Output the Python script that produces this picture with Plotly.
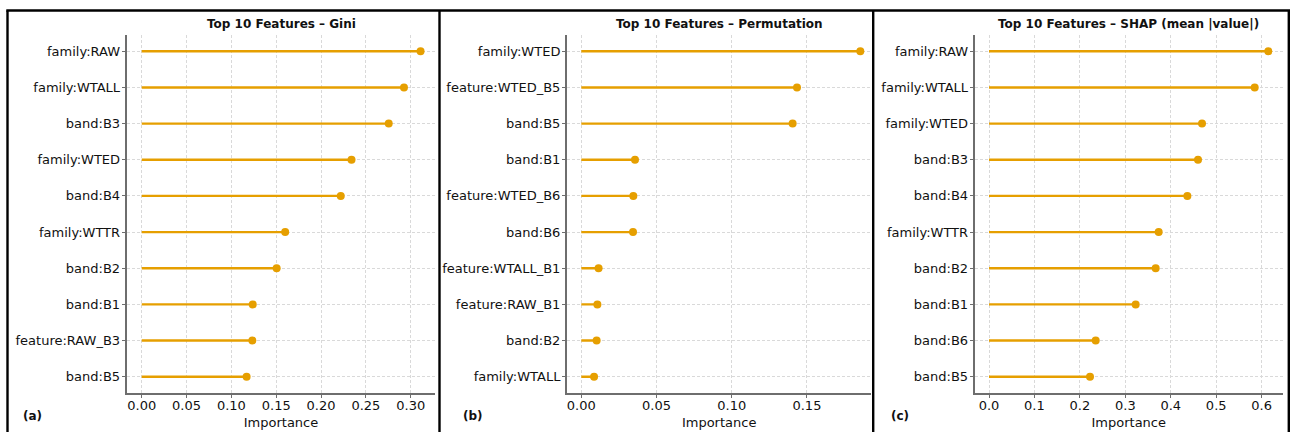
import plotly.graph_objects as go

# ---------------- data ----------------
gini_labels = ["family:RAW", "family:WTALL", "band:B3", "family:WTED", "band:B4",
               "family:WTTR", "band:B2", "band:B1", "feature:RAW_B3", "band:B5"]
gini_values = [0.311, 0.2925, 0.2755, 0.234, 0.222, 0.160, 0.1505, 0.1238, 0.1234, 0.117]

perm_labels = ["family:WTED", "feature:WTED_B5", "band:B5", "band:B1", "feature:WTED_B6",
               "band:B6", "feature:WTALL_B1", "feature:RAW_B1", "band:B2", "family:WTALL"]
perm_values = [0.1855, 0.1434, 0.1405, 0.0357, 0.0346, 0.0344, 0.0115, 0.0107, 0.0102, 0.0085]

shap_labels = ["family:RAW", "family:WTALL", "family:WTED", "band:B3", "band:B4",
               "family:WTTR", "band:B2", "band:B1", "band:B6", "band:B5"]
shap_values = [0.6147, 0.5847, 0.4688, 0.460, 0.4365, 0.3734, 0.3668, 0.3228, 0.2348, 0.2223]

titles = ["Top 10 Features – Gini", "Top 10 Features – Permutation",
          "Top 10 Features – SHAP (mean |value|)"]
panel_tags = ["(a)", "(b)", "(c)"]
x_ticks = [[0.00, 0.05, 0.10, 0.15, 0.20, 0.25, 0.30],
           [0.00, 0.05, 0.10, 0.15],
           [0.0, 0.1, 0.2, 0.3, 0.4, 0.5, 0.6]]
x_fmt = [".2f", ".2f", ".1f"]

# ---------------- layout geometry (pixels) ----------------
W, H = 1290, 432
plot_x = [(127, 435), (567.3, 871), (975, 1282.5)]
plot_top, plot_bot = 35, 393
x_ranges = [(-0.0164, 0.3271), (-0.0093, 0.1926), (-0.0308, 0.6459)]
tag_x = [32.5, 472.5, 899.5]

ORANGE = "#E69F00"
SPINE = "#6e6e6e"
GRID = "#d9d9d9"
FONT = "DejaVu Sans"

def px(x):
    return x / W

def py(y):
    return (H - y) / H

fig = go.Figure()
data = [(gini_labels, gini_values), (perm_labels, perm_values), (shap_labels, shap_values)]

annotations = []
for i, (labels, values) in enumerate(data):
    xa = "x" if i == 0 else f"x{i+1}"
    ya = "y" if i == 0 else f"y{i+1}"
    lx, ly = [], []
    for lab, v in zip(labels, values):
        lx += [0, v, None]
        ly += [lab, lab, None]
    fig.add_trace(go.Scatter(x=lx, y=ly, mode="lines", line=dict(color=ORANGE, width=2.4),
                             xaxis=xa, yaxis=ya, showlegend=False, hoverinfo="skip"))
    fig.add_trace(go.Scatter(x=values, y=labels, mode="markers",
                             marker=dict(color=ORANGE, size=8, line=dict(width=0)),
                             xaxis=xa, yaxis=ya, showlegend=False))
    x0, x1 = plot_x[i]
    xkey = "xaxis" if i == 0 else f"xaxis{i+1}"
    ykey = "yaxis" if i == 0 else f"yaxis{i+1}"
    fig.layout[xkey] = dict(
        domain=[px(x0), px(x1)], anchor=ya, range=list(x_ranges[i]),
        tickvals=x_ticks[i], tickformat=x_fmt[i],
        showgrid=True, gridcolor=GRID, griddash="3px,2px", gridwidth=0.8,
        zeroline=False, showline=True, linecolor=SPINE, linewidth=1.6,
        ticks="outside", ticklen=3.5, tickcolor=SPINE, tickwidth=1,
        ticklabelstandoff=-4,
        tickfont=dict(family=FONT, size=13, color="#111"),
        title=dict(text="Importance", font=dict(family=FONT, size=13, color="#111"), standoff=6),
        fixedrange=True,
    )
    fig.layout[ykey] = dict(
        domain=[py(plot_bot), py(plot_top)], anchor=xa,
        type="category", categoryorder="array", categoryarray=labels,
        range=[len(labels) - 0.55, -0.45],
        showgrid=True, gridcolor=GRID, griddash="3px,2px", gridwidth=0.8,
        zeroline=False, showline=True, linecolor=SPINE, linewidth=1.6,
        ticks="outside", ticklen=3.5, tickcolor=SPINE, tickwidth=1,
        ticklabelstandoff=-1,
        tickfont=dict(family=FONT, size=13, color="#111"),
        fixedrange=True,
    )
    annotations.append(dict(text=f"<b>{titles[i]}</b>", xref="paper", yref="paper",
                            x=px((x0 + x1) / 2), y=py(24.3), xanchor="center", yanchor="middle",
                            showarrow=False, font=dict(family=FONT, size=12, color="#111")))
    annotations.append(dict(text=f"<b>{panel_tags[i]}</b>", xref="paper", yref="paper",
                            x=px(tag_x[i]), y=py(416), xanchor="center", yanchor="middle",
                            showarrow=False, font=dict(family=FONT, size=12, color="#111")))

# panel frames
shapes = []
frame_top = 10.5
frame_xs = [7.5, 439.5, 873.2, 1288.8]
shapes.append(dict(type="line", xref="paper", yref="paper", x0=px(6.3), x1=px(1290),
                   y0=py(frame_top), y1=py(frame_top), line=dict(color="black", width=2.6)))
for fx in frame_xs:
    shapes.append(dict(type="line", xref="paper", yref="paper", x0=px(fx), x1=px(fx),
                       y0=py(frame_top), y1=py(440), line=dict(color="black", width=2.4)))

fig.update_layout(width=W, height=H, margin=dict(l=0, r=0, t=0, b=0),
                  paper_bgcolor="white", plot_bgcolor="white",
                  annotations=annotations, shapes=shapes,
                  font=dict(family=FONT, color="#111"))

fig.write_html("out.html", config={"displayModeBar": False},
               post_script="document.body.style.margin='0';document.body.style.overflow='hidden';")
